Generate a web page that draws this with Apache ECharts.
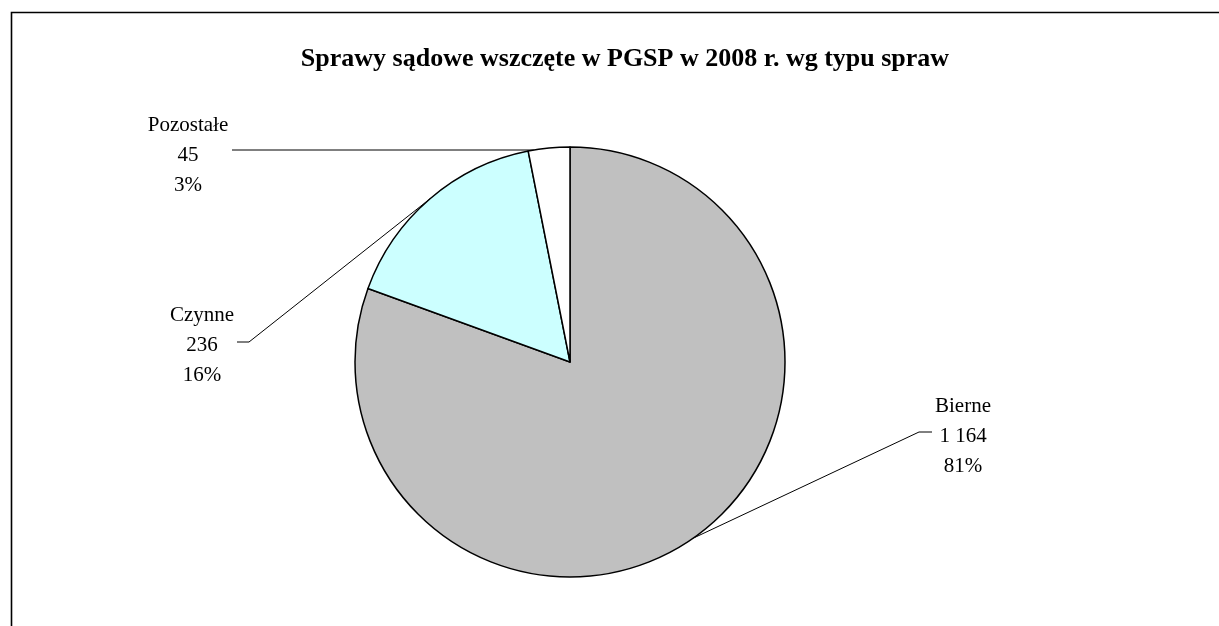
<!DOCTYPE html>
<html>
<head>
<meta charset="utf-8">
<script src="https://cdn.jsdelivr.net/npm/echarts@6/dist/echarts.min.js"></script>
<style>
	html, body { margin: 0; padding: 0; background: #fff; }
	#plot { width: 1219px; height: 626px; }
</style>
</head>
<body>
<div id="plot"></div>
<script>
const titleText = 'Sprawy sądowe wszczęte w PGSP w 2008 r. wg typu spraw';
const categories = ['Bierne', 'Czynne', 'Pozostałe'];
const values = [1164, 236, 45];
const colors = ['#C0C0C0', '#CCFFFF', '#FFFFFF'];

const pieCenter = [570, 362];
const pieRadius = 215;

// where each label sits (centre of the middle line) and where its leader line ends
const labelSpots = [
	{ x: 963, y: 436, lineEnd: [919, 432], tail: [932, 432] },
	{ x: 202, y: 345, lineEnd: [249, 342], tail: [237, 342] },
	{ x: 188, y: 155, lineEnd: [232, 150], tail: [232, 150] }
];

const serif = '"Liberation Serif", "DejaVu Serif", serif';

function withSpaces(n) {
	return String(n).replace(/\B(?=(\d{3})+(?!\d))/g, ' ');
}

function plot() {
	const box = document.getElementById('plot');
	const chart = echarts.init(box);

	const option = {
		animation: false,
		backgroundColor: '#fff',
		title: {
			text: titleText,
			left: 620,
			top: 41,
			textAlign: 'center',
			textStyle: {
				fontFamily: serif,
				fontWeight: 'bold',
				fontSize: 26,
				color: '#000'
			}
		},
		graphic: [
			{
				type: 'rect',
				shape: { x: 11.5, y: 12.5, width: 1400, height: 800 },
				style: { fill: 'none', stroke: '#000', lineWidth: 1.6 },
				silent: true
			}
		],
		series: [
			{
				type: 'pie',
				center: pieCenter,
				radius: pieRadius,
				startAngle: 90,
				clockwise: true,
				avoidLabelOverlap: false,
				itemStyle: {
					borderColor: '#000',
					borderWidth: 1.5
				},
				label: {
					show: true,
					fontFamily: serif,
					fontSize: 21,
					lineHeight: 30,
					color: '#000',
					align: 'center',
					formatter: (p) => p.name + '\n' + withSpaces(p.value) + '\n' + Math.round(p.percent) + '%'
				},
				labelLine: {
					show: true,
					lineStyle: { color: '#000', width: 1 }
				},
				labelLayout: (params) => {
					const spot = labelSpots[params.dataIndex];
					let start = params.labelLinePoints ? params.labelLinePoints[0] : spot.lineEnd;
					if (spot.lineEnd[1] === spot.tail[1] && spot.lineEnd[0] === spot.tail[0]) {
						// straight horizontal leader: meet the rim at the same height
						const dy = pieCenter[1] - spot.lineEnd[1];
						start = [pieCenter[0] - Math.sqrt(pieRadius * pieRadius - dy * dy), spot.lineEnd[1]];
					}
					return {
						x: spot.x,
						y: spot.y,
						align: 'center',
						verticalAlign: 'middle',
						labelLinePoints: [start, spot.lineEnd, spot.tail]
					};
				},
				data: categories.map((name, i) => ({
					name: name,
					value: values[i],
					itemStyle: { color: colors[i] }
				}))
			}
		]
	};

	chart.setOption(option);
	window.addEventListener('resize', () => {
		chart.resize();
	});
}

window.addEventListener('load', () => {
	plot();
});
</script>
</body>
</html>
